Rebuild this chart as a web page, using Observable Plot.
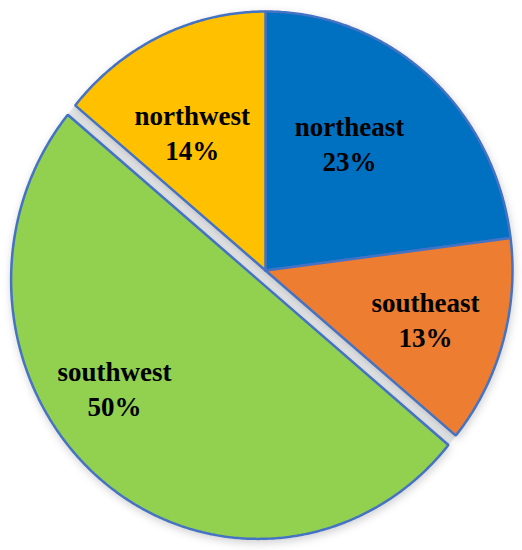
<!DOCTYPE html>
<html>
<head>
<meta charset="utf-8">
<script src="https://cdn.jsdelivr.net/npm/d3@7"></script>
<script src="https://cdn.jsdelivr.net/npm/@observablehq/plot@0.6"></script>
<style>
  html, body { margin: 0; padding: 0; background: #fff; }
  #chart svg { display: block; }
  .pie-slices { filter: drop-shadow(1px 3px 4px rgba(0,0,0,0.18)); }
</style>
</head>
<body>
<div id="chart"></div>
<script>
// ---- data ----
const regions = ["northeast", "southeast", "southwest", "northwest"];
const shares = [23, 13, 50, 14];
const colors = ["#0070C0", "#ED7D31", "#92D050", "#FFC000"];
const explodedRegion = "southwest";

// ---- layout (not data) ----
const explode = 0.047;                       // radial offset of exploded slice
const labelRadius = [0.60, 0.673, 0.713, 0.613];
const labelAngleNudge = [-6.9, -0.4, 15.0, -3.7]; // degrees from slice centroid

const pie = d3.pie().sort(null).value(d => d.share)(
  regions.map((r, i) => ({region: r, share: shares[i]}))
);

const slicePts = [];
const gapPts = [];
const labels = [];
pie.forEach((p, i) => {
  const region = p.data.region;
  const mid = (p.startAngle + p.endAngle) / 2;
  const off = region === explodedRegion ? explode : 0;
  const ox = off * Math.sin(mid), oy = off * Math.cos(mid);
  const n = Math.max(2, Math.ceil((p.endAngle - p.startAngle) / (Math.PI / 360)));
  const pts = [{x: ox, y: oy}];
  for (let k = 0; k <= n; k++) {
    const a = p.startAngle + (p.endAngle - p.startAngle) * k / n;
    pts.push({x: ox + Math.sin(a), y: oy + Math.cos(a)});
  }
  pts.push({x: ox, y: oy});
  pts.forEach(q => slicePts.push({...q, region}));
  if (off) {
    // un-exploded footprint, shown in light grey behind (the gap)
    const g = [{x: 0, y: 0}];
    for (let k = 0; k <= n; k++) {
      const a = p.startAngle + (p.endAngle - p.startAngle) * k / n;
      g.push({x: Math.sin(a), y: Math.cos(a)});
    }
    g.push({x: 0, y: 0});
    g.forEach(q => gapPts.push({...q, region}));
  }
  const la = mid + labelAngleNudge[i] * Math.PI / 180;
  labels.push({
    x: ox + labelRadius[i] * Math.sin(la),
    y: oy + labelRadius[i] * Math.cos(la),
    text: `${region}\n${p.data.share}%`
  });
});

const chart = Plot.plot({
  width: 522,
  height: 550,
  marginLeft: 18,
  marginRight: 10,
  marginTop: 11,
  marginBottom: 21,
  x: {domain: [-1, 1], axis: null},
  y: {domain: [-1, 1], axis: null},
  color: {domain: regions, range: colors},
  marks: [
    Plot.line(gapPts, {x: "x", y: "y", z: "region", fill: "#E6E8EA", stroke: "#E6E8EA", strokeWidth: 1}),
    Plot.line(slicePts, {
      x: "x", y: "y", z: "region", fill: "region",
      stroke: "#4472C4", strokeWidth: 2.5, strokeLinejoin: "miter",
      className: "pie-slices"
    }),
    Plot.text(labels, {
      x: "x", y: "y", text: "text",
      fontFamily: "Liberation Serif", fontWeight: "bold", fontSize: 27,
      lineHeight: 1.3, fill: "#000", textAnchor: "middle"
    })
  ]
});
document.getElementById("chart").appendChild(chart);
</script>
</body>
</html>
